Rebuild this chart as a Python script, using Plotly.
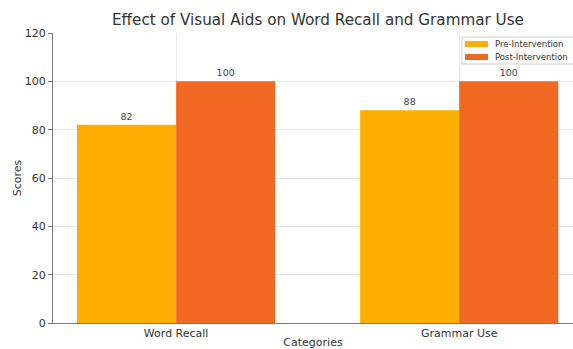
import plotly.graph_objects as go

categories = ["Word Recall", "Grammar Use"]
pre_values = [82, 88]
post_values = [100, 100]
series_names = ["Pre-Intervention", "Post-Intervention"]
y_ticks = [0, 20, 40, 60, 80, 100, 120]

PRE_COLOR = "#FDAE02"
POST_COLOR = "#F16823"
FONT = "DejaVu Sans"

fig = go.Figure()
fig.add_trace(go.Bar(
    x=categories, y=pre_values, name=series_names[0],
    marker=dict(color=PRE_COLOR, line=dict(width=0)),
    text=[str(v) for v in pre_values], textposition="outside",
    textfont=dict(family=FONT, size=9.5, color="#444"), cliponaxis=False,
))
fig.add_trace(go.Bar(
    x=categories, y=post_values, name=series_names[1],
    marker=dict(color=POST_COLOR, line=dict(width=0)),
    text=[str(v) for v in post_values], textposition="outside",
    textfont=dict(family=FONT, size=9.5, color="#444"), cliponaxis=False,
))

# legend drawn by hand (matplotlib-style compact legend, clipped at right edge)
shapes = [
    dict(type="rect", xref="paper", yref="paper", x0=0.7865, x1=1.03, y0=0.893, y1=0.986,
         fillcolor="rgba(255,255,255,0.85)", line=dict(color="#d0d0d0", width=1), layer="above"),
    dict(type="rect", xref="paper", yref="paper", x0=0.7923, x1=0.8365, y0=0.9517, y1=0.9724,
         fillcolor=PRE_COLOR, line=dict(width=0), layer="above"),
    dict(type="rect", xref="paper", yref="paper", x0=0.7923, x1=0.8365, y0=0.9069, y1=0.9276,
         fillcolor=POST_COLOR, line=dict(width=0), layer="above"),
]
annotations = [
    dict(text=series_names[0], xref="paper", yref="paper", x=0.846, y=0.962,
         xanchor="left", yanchor="middle", showarrow=False,
         font=dict(family=FONT, size=8.5, color="#333")),
    dict(text=series_names[1], xref="paper", yref="paper", x=0.846, y=0.917,
         xanchor="left", yanchor="middle", showarrow=False,
         font=dict(family=FONT, size=8.5, color="#333")),
]

fig.update_layout(
    width=573, height=349,
    margin=dict(l=53, r=0, t=33, b=26, autoexpand=False),
    paper_bgcolor="white", plot_bgcolor="white",
    barmode="group", bargap=0.3, bargroupgap=0,
    font=dict(family=FONT, color="#333"),
    title=dict(text="Effect of Visual Aids on Word Recall and Grammar Use",
               x=0.5096, xanchor="center", xref="paper",
               y=0.945, yanchor="middle", yref="container",
               font=dict(family=FONT, size=15.2, color="#333")),
    showlegend=False,
    shapes=shapes,
    annotations=annotations,
)
fig.update_xaxes(
    type="category", range=[-0.435, 1.402],
    showgrid=True, gridcolor="#e8e8e8", gridwidth=1,
    showline=True, linecolor="#777", linewidth=1.2,
    ticks="", tickfont=dict(family=FONT, size=11, color="#333"),
    title=dict(text="Categories", font=dict(family=FONT, size=11, color="#333"), standoff=2),
    automargin=False,
)
fig.update_yaxes(
    range=[0, 120], tickvals=y_ticks,
    showgrid=True, gridcolor="#e8e8e8", gridwidth=1,
    showline=True, linecolor="#777", linewidth=1.2,
    ticks="outside", ticklen=4, tickcolor="#777",
    tickfont=dict(family=FONT, size=11, color="#333"),
    zeroline=False,
    title=dict(text="Scores", font=dict(family=FONT, size=11, color="#333"), standoff=0),
    automargin=False,
)

fig.write_html("out.html")
